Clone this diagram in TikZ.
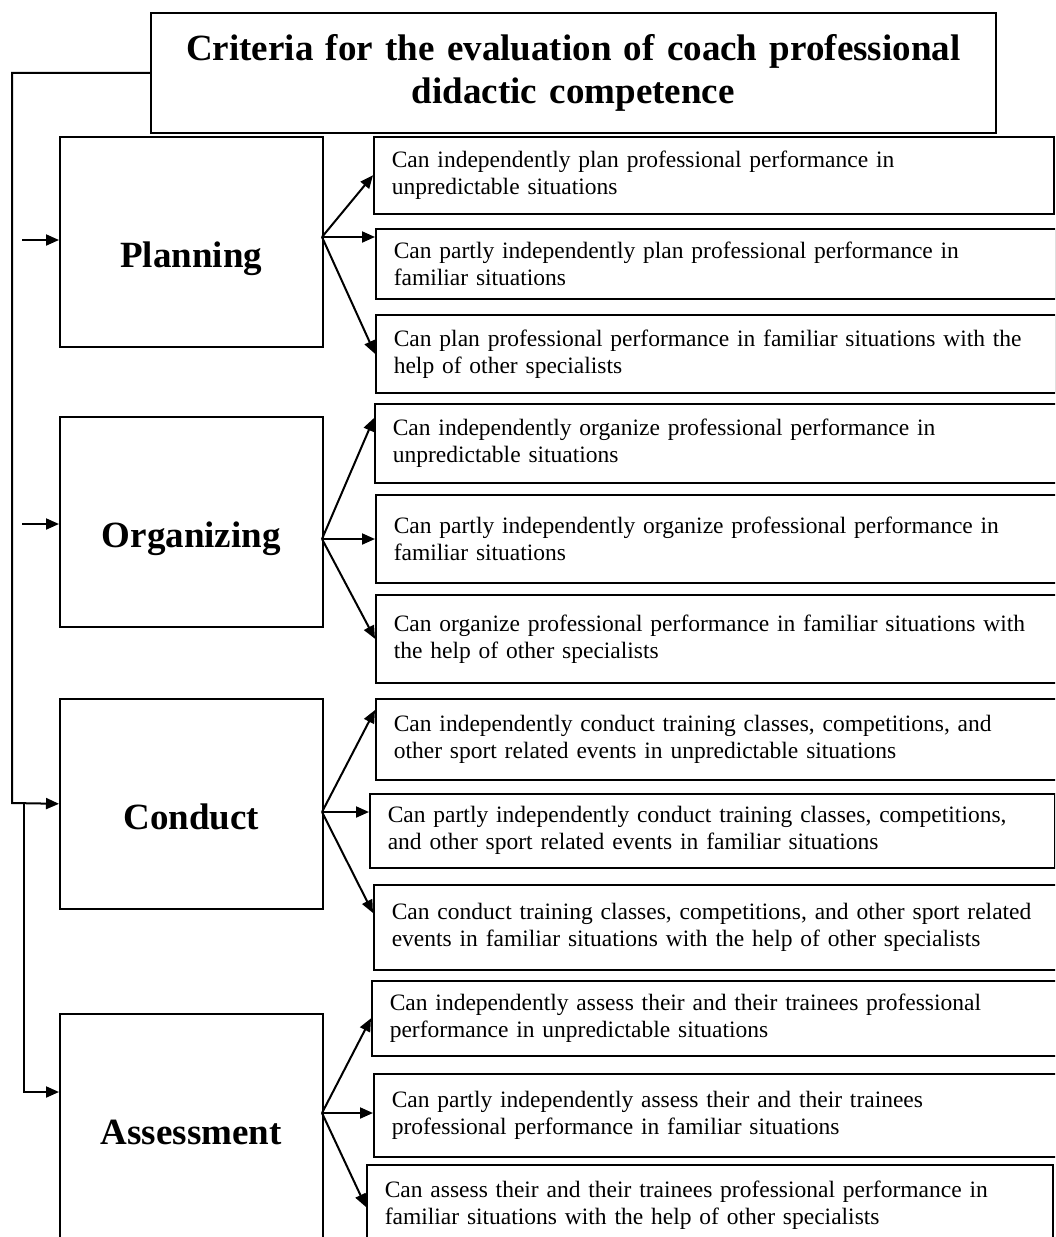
\documentclass[tikz,border=0pt]{standalone}
\usepackage{fontspec}
\setmainfont{Liberation Serif}
\usetikzlibrary{arrows.meta, positioning}

\begin{document}
\begin{tikzpicture}[x=1pt, y=-1pt,
    head/.style={draw, line width=1.6pt, anchor=north west, align=center, inner xsep=10pt,
      text width=825pt, minimum height=120pt, font=\fontsize{37}{43}\selectfont\bfseries},
    crit/.style={draw, line width=1.6pt, anchor=north west, inner ysep=0pt, minimum width=263pt,
      text height=131pt, text depth=79pt, font=\fontsize{37}{43}\selectfont\bfseries},
    opt/.style={draw, line width=1.6pt, anchor=north west, align=left, inner xsep=18pt,
      inner ysep=0pt, text width=644pt, font=\fontsize{23.5}{27}\selectfont},
    arr/.style={draw, line width=2pt, -{Triangle[length=13pt,width=11pt]}}]
  \useasboundingbox (0,0) rectangle (1055,1237);
  \clip (0,0) rectangle (1055,1237);

  % title
  \node[head] (title) at (150,12) {Criteria for the evaluation of coach professional\\didactic competence};

  % criteria
  \node[crit] (plan) at (59,136) {Planning};
  \node[crit] (org) at (59,416) {Organizing};
  \node[crit] (cond) at (59,698) {Conduct};
  \node[crit, text depth=110pt] (assess) at (59,1013) {Assessment};

  % levels
  \node[opt, minimum height=77pt] (p1) at (373,136) {Can independently plan professional performance in\\unpredictable situations};
  \node[opt, minimum height=70pt] (p2) at (375,228) {Can partly independently plan professional performance in\\familiar situations};
  \node[opt, minimum height=78pt] (p3) at (375,314) {Can plan professional performance in familiar situations with the\\help of other specialists};

  \node[opt, minimum height=79pt, text width=670pt] (o1) at (374,403) {Can independently organize professional performance in\\unpredictable situations};
  \node[opt, minimum height=88pt, text width=670pt] (o2) at (375,494) {Can partly independently organize professional performance in\\familiar situations};
  \node[opt, minimum height=88pt, text width=670pt] (o3) at (375,594) {Can organize professional performance in familiar situations with\\the help of other specialists};

  \node[opt, minimum height=81pt, text width=670pt] (c1) at (375,698) {Can independently conduct training classes, competitions, and\\other sport related events in unpredictable situations};
  \node[opt, minimum height=74pt, text width=649pt] (c2) at (369,793) {Can partly independently conduct training classes, competitions,\\and other sport related events in familiar situations};
  \node[opt, minimum height=85pt, text width=670pt] (c3) at (373,884) {Can conduct training classes, competitions, and other sport related\\events in familiar situations with the help of other specialists};

  \node[opt, minimum height=75pt, text width=670pt] (a1) at (371,980) {Can independently assess their and their trainees professional\\performance in unpredictable situations};
  \node[opt, minimum height=83pt, text width=670pt] (a2) at (373,1073) {Can partly independently assess their and their trainees\\professional performance in familiar situations};
  \node[opt, minimum height=80pt, text width=650pt] (a3) at (366,1164) {Can assess their and their trainees professional performance in\\familiar situations with the help of other specialists};

  % branch points
  \coordinate (pf) at (322,237);
  \coordinate (of) at (322,539);
  \coordinate (cf) at (322,812);
  \coordinate (af) at (322,1113);
  \coordinate (rail) at (12,803);
  \coordinate (split) at (24,803);
  \coordinate (pin) at (22,240);
  \coordinate (oin) at (22,524);

  % feed lines
  \draw[arr] (title.west) -| (rail) -- (cond.west);
  \draw[arr] (split) |- ([yshift=-79pt]assess.north west);
  \draw[arr] (pin) -- (pin -| plan.west);
  \draw[arr] (oin) -- (oin -| org.west);

  % fans
  \draw[arr] (pf) -- (p1.west);
  \draw[arr] (pf) -- (pf -| p2.west);
  \draw[arr] (pf) -- (p3.west);
  \draw[arr] (of) -- ([yshift=-15pt]o1.north west);
  \draw[arr] (of) -- (of -| o2.west);
  \draw[arr] (of) -- (o3.west);
  \draw[arr] (cf) -- ([yshift=-12pt]c1.north west);
  \draw[arr] (cf) -- (cf -| c2.west);
  \draw[arr] (cf) -- ([yshift=-29pt]c3.north west);
  \draw[arr] (af) -- (a1.west);
  \draw[arr] (af) -- (af -| a2.west);
  \draw[arr] (af) -- ([yshift=-43pt]a3.north west);
\end{tikzpicture}
\end{document}
